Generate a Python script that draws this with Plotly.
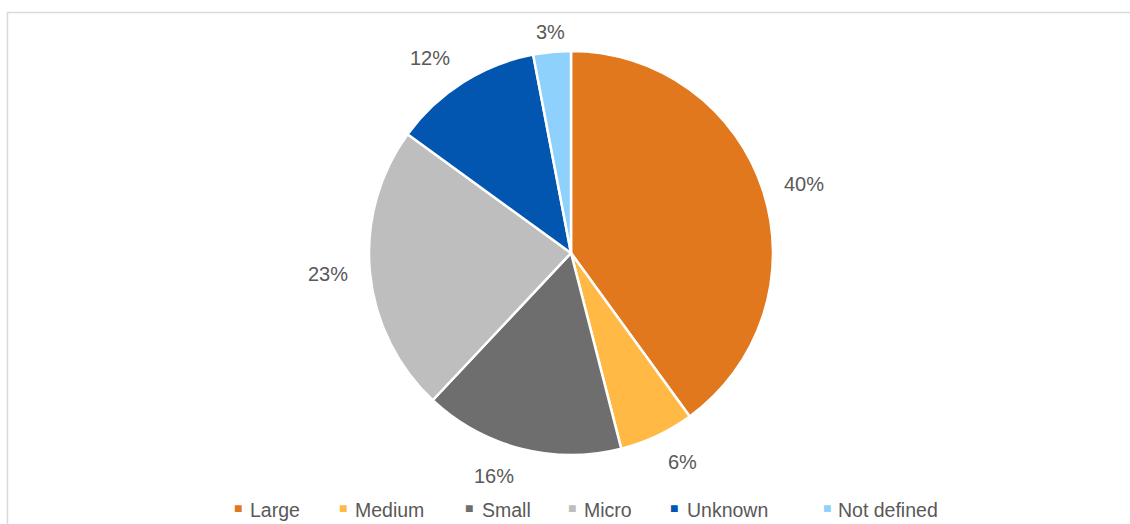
import math
import plotly.graph_objects as go

# Share of entities by size class
categories = ["Large", "Medium", "Small", "Micro", "Unknown", "Not defined"]
shares = [40, 6, 16, 23, 12, 3]
colors = ["#E2781E", "#FFB944", "#6E6E6E", "#BEBEBE", "#0356B0", "#8ED1FC"]

W, H = 1130, 524
TEXT = "#595959"
FONT = "Liberation Sans, Arial, sans-serif"

# Pie geometry in pixels
CX, CY, R = 571, 253, 202
LABEL_R = R + 20

# Legend placement (pixel x of marker and text start)
legend_marker_x = [238, 342.5, 469, 572, 674, 826.5]
legend_text_x = [248, 353, 479.5, 582, 684.6, 836]
LEGEND_Y = 510


def px(x):
    return x / W


def py(y):
    return 1 - y / H


fig = go.Figure()
fig.add_trace(go.Pie(
    labels=categories,
    values=shares,
    sort=False,
    direction="clockwise",
    rotation=0,
    marker=dict(colors=colors, line=dict(color="white", width=2.5)),
    textinfo="none",
    hoverinfo="label+percent",
    showlegend=False,
    domain=dict(x=[px(CX - R), px(CX + R)], y=[py(CY + R), py(CY - R)]),
))

annotations = []
total = sum(shares)
cum = 0
for cat, v in zip(categories, shares):
    mid = (cum + v / 2) / total * 2 * math.pi
    cum += v
    dx, dy = math.sin(mid), -math.cos(mid)
    x = CX + LABEL_R * dx
    y = CY + LABEL_R * dy
    xanchor = "left" if dx > 0.2 else ("right" if dx < -0.2 else "center")
    yshift = 0
    if abs(dx) > 0.2:
        if dy > 0.5:
            yshift = -8
        elif dy < -0.5:
            yshift = 8
    annotations.append(dict(
        x=px(x), y=py(y), xref="paper", yref="paper",
        text=f"{round(v / total * 100)}%", showarrow=False,
        xanchor=xanchor, yanchor="middle", yshift=yshift,
        font=dict(family=FONT, size=20, color=TEXT),
    ))

for cat, col, mx, tx in zip(categories, colors, legend_marker_x, legend_text_x):
    annotations.append(dict(
        x=px(mx), y=py(LEGEND_Y), xref="paper", yref="paper",
        text="■", showarrow=False, xanchor="center", yanchor="middle",
        yshift=2,
        font=dict(family=FONT, size=14, color=col),
    ))
    annotations.append(dict(
        x=px(tx), y=py(LEGEND_Y), xref="paper", yref="paper",
        text=cat, showarrow=False, xanchor="left", yanchor="middle",
        font=dict(family=FONT, size=19.5, color=TEXT),
    ))

fig.update_layout(
    width=W, height=H,
    margin=dict(l=0, r=0, t=0, b=0),
    paper_bgcolor="white",
    plot_bgcolor="white",
    annotations=annotations,
    shapes=[dict(
        type="rect", xref="paper", yref="paper",
        x0=px(7.5), x1=px(1140), y0=py(540), y1=py(12.5),
        line=dict(color="#D9D9D9", width=1.5), fillcolor="rgba(0,0,0,0)",
    )],
)

fig.write_html("out.html")
